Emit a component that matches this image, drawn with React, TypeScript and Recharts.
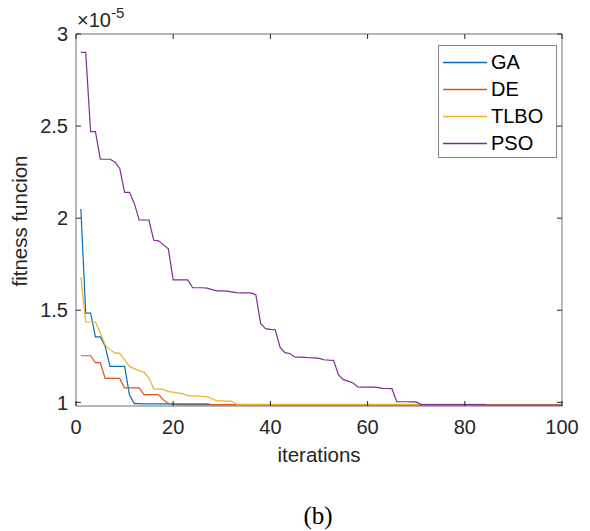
import React from 'react';
import { LineChart, Line, XAxis, YAxis } from 'recharts';

const iterations: number[] = [
  1, 2, 3, 4, 5, 6, 7, 8, 9, 10, 11, 12, 13, 14, 15, 16, 17, 18, 19, 20,
  21, 22, 23, 24, 25, 26, 27, 28, 29, 30, 31, 32, 33, 34, 35, 36, 37, 38, 39, 40,
  41, 42, 43, 44, 45, 46, 47, 48, 49, 50, 51, 52, 53, 54, 55, 56, 57, 58, 59, 60,
  61, 62, 63, 64, 65, 66, 67, 68, 69, 70, 71, 72, 73, 74, 75, 76, 77, 78, 79, 80,
  81, 82, 83, 84, 85, 86, 87, 88, 89, 90, 91, 92, 93, 94, 95, 96, 97, 98, 99, 100,
];

const GA: number[] = [
  2.05, 1.484, 1.484, 1.355, 1.355, 1.304, 1.195, 1.195, 1.195, 1.195,
  1.04, 0.993, 0.993, 0.992, 0.992, 0.992, 0.992, 0.991, 0.991, 0.99,
  0.987, 0.987, 0.987, 0.987, 0.987, 0.987, 0.987, 0.987, 0.987, 0.987,
  0.987, 0.987, 0.987, 0.987, 0.987, 0.987, 0.987, 0.987, 0.987, 0.987,
  0.986, 0.986, 0.986, 0.986, 0.986, 0.986, 0.986, 0.986, 0.986, 0.986,
  0.986, 0.986, 0.986, 0.986, 0.986, 0.986, 0.986, 0.986, 0.986, 0.986,
  0.986, 0.986, 0.986, 0.986, 0.986, 0.986, 0.986, 0.986, 0.986, 0.986,
  0.986, 0.986, 0.986, 0.986, 0.986, 0.986, 0.986, 0.986, 0.986, 0.986,
  0.986, 0.986, 0.986, 0.986, 0.985, 0.985, 0.985, 0.985, 0.985, 0.985,
  0.985, 0.985, 0.985, 0.985, 0.985, 0.985, 0.985, 0.985, 0.985, 0.985,
];

const DE: number[] = [
  1.253, 1.253, 1.253, 1.215, 1.215, 1.13, 1.13, 1.13, 1.13, 1.078,
  1.078, 1.078, 1.078, 1.042, 1.042, 1.042, 1.042, 1.013, 0.994, 0.992,
  0.992, 0.992, 0.992, 0.992, 0.992, 0.992, 0.992, 0.988, 0.988, 0.988,
  0.988, 0.988, 0.988, 0.988, 0.988, 0.988, 0.988, 0.988, 0.988, 0.988,
  0.988, 0.988, 0.988, 0.988, 0.988, 0.988, 0.988, 0.988, 0.988, 0.988,
  0.988, 0.988, 0.988, 0.988, 0.988, 0.988, 0.988, 0.988, 0.988, 0.988,
  0.988, 0.988, 0.988, 0.988, 0.988, 0.988, 0.988, 0.988, 0.988, 0.988,
  0.988, 0.988, 0.988, 0.988, 0.988, 0.988, 0.988, 0.988, 0.988, 0.988,
  0.988, 0.988, 0.988, 0.988, 0.985, 0.985, 0.985, 0.985, 0.985, 0.985,
  0.985, 0.985, 0.985, 0.985, 0.985, 0.985, 0.985, 0.985, 0.985, 0.985,
];

const TLBO: number[] = [
  1.68, 1.436, 1.436, 1.436, 1.376, 1.31, 1.286, 1.268, 1.266, 1.232,
  1.195, 1.183, 1.172, 1.163, 1.133, 1.073, 1.072, 1.07, 1.058, 1.055,
  1.05, 1.047, 1.036, 1.035, 1.034, 1.033, 1.03, 1.019, 1.008, 1.008,
  1.007, 1.007, 0.99, 0.989, 0.989, 0.989, 0.989, 0.989, 0.989, 0.989,
  0.989, 0.989, 0.989, 0.989, 0.989, 0.989, 0.989, 0.989, 0.989, 0.989,
  0.989, 0.989, 0.989, 0.989, 0.989, 0.989, 0.989, 0.989, 0.989, 0.989,
  0.989, 0.989, 0.989, 0.989, 0.989, 0.989, 0.989, 0.989, 0.989, 0.989,
  0.989, 0.989, 0.989, 0.989, 0.989, 0.989, 0.989, 0.989, 0.989, 0.989,
  0.989, 0.989, 0.989, 0.989, 0.986, 0.986, 0.986, 0.986, 0.986, 0.986,
  0.986, 0.986, 0.986, 0.986, 0.986, 0.986, 0.986, 0.986, 0.986, 0.986,
];

const PSO: number[] = [
  2.9, 2.9, 2.47, 2.47, 2.32, 2.32, 2.32, 2.305, 2.27, 2.14,
  2.14, 2.08, 1.99, 1.99, 1.99, 1.88, 1.877, 1.855, 1.833, 1.665,
  1.665, 1.665, 1.665, 1.622, 1.622, 1.622, 1.62, 1.612, 1.605, 1.605,
  1.604, 1.6, 1.596, 1.594, 1.594, 1.594, 1.585, 1.427, 1.4, 1.396,
  1.394, 1.298, 1.27, 1.265, 1.246, 1.245, 1.244, 1.242, 1.241, 1.239,
  1.231, 1.229, 1.228, 1.15, 1.123, 1.115, 1.105, 1.083, 1.082, 1.082,
  1.082, 1.081, 1.076, 1.075, 1.074, 1.003, 1.003, 1.003, 1.002, 1.002,
  0.988, 0.988, 0.988, 0.988, 0.988, 0.988, 0.988, 0.988, 0.988, 0.988,
  0.988, 0.988, 0.988, 0.988, 0.985, 0.985, 0.985, 0.985, 0.985, 0.985,
  0.985, 0.985, 0.985, 0.985, 0.985, 0.985, 0.985, 0.985, 0.985, 0.985,
];

const xTicks: number[] = [0, 20, 40, 60, 80, 100];
const yTicks: number[] = [1, 1.5, 2, 2.5, 3];
const yTickLabels: string[] = ['1', '1.5', '2', '2.5', '3'];

const seriesNames = ['GA', 'DE', 'TLBO', 'PSO'];
const seriesColors: Record<string, string> = {
  GA: '#0072BD',
  DE: '#D95319',
  TLBO: '#EDB120',
  PSO: '#7E2F8E',
};

const data = iterations.map((it, i) => ({
  it,
  GA: GA[i],
  DE: DE[i],
  TLBO: TLBO[i],
  PSO: PSO[i],
}));

const FONT = '"Liberation Sans", Arial, Helvetica, sans-serif';
const TEXT = '#262626';
const FS = 20;
const TICK_LEN = 5;
const Y_DOMAIN: [number, number] = [0.98, 3];

const BottomTick = (props: any) => {
  const { x, y, payload } = props;
  return (
    <g>
      <line x1={x} x2={x} y1={y} y2={y - TICK_LEN} stroke={TEXT} strokeWidth={1} />
      <text x={x} y={y + 28} textAnchor="middle" fill={TEXT} fontSize={FS} fontFamily={FONT}>
        {payload.value}
      </text>
    </g>
  );
};

const TopTick = (props: any) => {
  const { x, y } = props;
  return <line x1={x} x2={x} y1={y} y2={y + TICK_LEN} stroke={TEXT} strokeWidth={1} />;
};

const LeftTick = (props: any) => {
  const { x, y, payload } = props;
  const idx = yTicks.indexOf(payload.value);
  const label = idx >= 0 ? yTickLabels[idx] : String(payload.value);
  return (
    <g>
      <line x1={x} x2={x + TICK_LEN} y1={y} y2={y} stroke={TEXT} strokeWidth={1} />
      <text x={x - 8} y={y} dy="0.36em" textAnchor="end" fill={TEXT} fontSize={FS} fontFamily={FONT}>
        {label}
      </text>
    </g>
  );
};

const RightTick = (props: any) => {
  const { x, y } = props;
  return <line x1={x} x2={x - TICK_LEN} y1={y} y2={y} stroke={TEXT} strokeWidth={1} />;
};

const ExponentLabel = (props: any) => {
  const vb = props.viewBox || { x: 76, y: 24, width: 486, height: 10 };
  const bx = vb.x + 1;
  const by = vb.y + vb.height - 7;
  return (
    <text x={bx} y={by} fill={TEXT} fontFamily={FONT}>
      <tspan fontSize={FS}>{'\u00D710'}</tspan>
      <tspan fontSize={15} dy={-9}>-5</tspan>
    </text>
  );
};

const YLabel = (props: any) => {
  const vb = props.viewBox || { x: 36, y: 34, width: 40, height: 372 };
  const cy = vb.y + vb.height / 2 + 1;
  const cx = 27;
  return (
    <text
      x={cx}
      y={cy}
      transform={`rotate(-90, ${cx}, ${cy})`}
      textAnchor="middle"
      fill={TEXT}
      fontSize={20.5}
      fontFamily={FONT}
    >
      fitness funcion
    </text>
  );
};

const XLabel = (props: any) => {
  const vb = props.viewBox || { x: 76, y: 406, width: 486, height: 30 };
  const cx = vb.x + vb.width / 2;
  return (
    <text x={cx} y={vb.y + 56} textAnchor="middle" fill={TEXT} fontSize={20.5} fontFamily={FONT}>
      iterations
    </text>
  );
};

const LegendBox = () => (
  <div
    style={{
      position: 'absolute',
      left: 438,
      top: 45,
      width: 119,
      height: 113,
      boxSizing: 'border-box',
      border: '1.5px solid #8a8a8a',
      background: '#ffffff',
      paddingTop: 3,
      fontFamily: FONT,
      fontSize: FS,
      color: '#000',
    }}
  >
    {seriesNames.map((name) => (
      <div key={name} style={{ height: 27, display: 'flex', alignItems: 'center' }}>
        <svg width={48} height={27} style={{ display: 'block', marginLeft: 3 }}>
          <line x1={1} x2={45} y1={13.5} y2={13.5} stroke={seriesColors[name]} strokeWidth={1.5} />
        </svg>
        <span style={{ marginLeft: 1, lineHeight: '27px' }}>{name}</span>
      </div>
    ))}
  </div>
);

export default function App() {
  return (
    <div style={{ position: 'absolute', left: 0, top: 0, width: 590, height: 531, background: '#fff' }}>
      <LineChart
        width={590}
        height={531}
        data={data}
        margin={{ top: 24, right: 18, bottom: 95, left: 36 }}
      >
        <XAxis
          xAxisId="bottom"
          dataKey="it"
          type="number"
          domain={[0, 100]}
          ticks={xTicks}
          height={30}
          axisLine={{ stroke: '#6e6e6e', strokeWidth: 1 }}
          tickLine={false}
          tickSize={0}
          tickMargin={0}
          tick={<BottomTick />}
          interval={0}
          allowDataOverflow
          label={<XLabel />}
        />
        <XAxis
          xAxisId="top"
          orientation="top"
          dataKey="it"
          type="number"
          domain={[0, 100]}
          ticks={xTicks}
          height={10}
          axisLine={{ stroke: '#6e6e6e', strokeWidth: 1 }}
          tickLine={false}
          tickSize={0}
          tickMargin={0}
          tick={<TopTick />}
          interval={0}
          allowDataOverflow
          label={<ExponentLabel />}
        />
        <YAxis
          yAxisId="left"
          type="number"
          domain={Y_DOMAIN}
          ticks={yTicks}
          width={40}
          axisLine={{ stroke: '#6e6e6e', strokeWidth: 1 }}
          tickLine={false}
          tickSize={0}
          tickMargin={0}
          tick={<LeftTick />}
          interval={0}
          allowDataOverflow
          label={<YLabel />}
        />
        <YAxis
          yAxisId="right"
          orientation="right"
          type="number"
          domain={Y_DOMAIN}
          ticks={yTicks}
          width={10}
          axisLine={{ stroke: '#6e6e6e', strokeWidth: 1 }}
          tickLine={false}
          tickSize={0}
          tickMargin={0}
          tick={<RightTick />}
          interval={0}
          allowDataOverflow
        />
        {seriesNames.map((name) => (
          <Line
            key={name}
            xAxisId="bottom"
            yAxisId="left"
            type="linear"
            dataKey={name}
            stroke={seriesColors[name]}
            strokeWidth={1.2}
            dot={false}
            activeDot={false}
            isAnimationActive={false}
          />
        ))}
      </LineChart>
      <LegendBox />
      <div
        style={{
          position: 'absolute',
          left: 0,
          width: 636,
          top: 502,
          textAlign: 'center',
          fontFamily: '"Liberation Serif", "Times New Roman", serif',
          fontSize: 25,
          color: '#000',
        }}
      >
        (b)
      </div>
    </div>
  );
}
